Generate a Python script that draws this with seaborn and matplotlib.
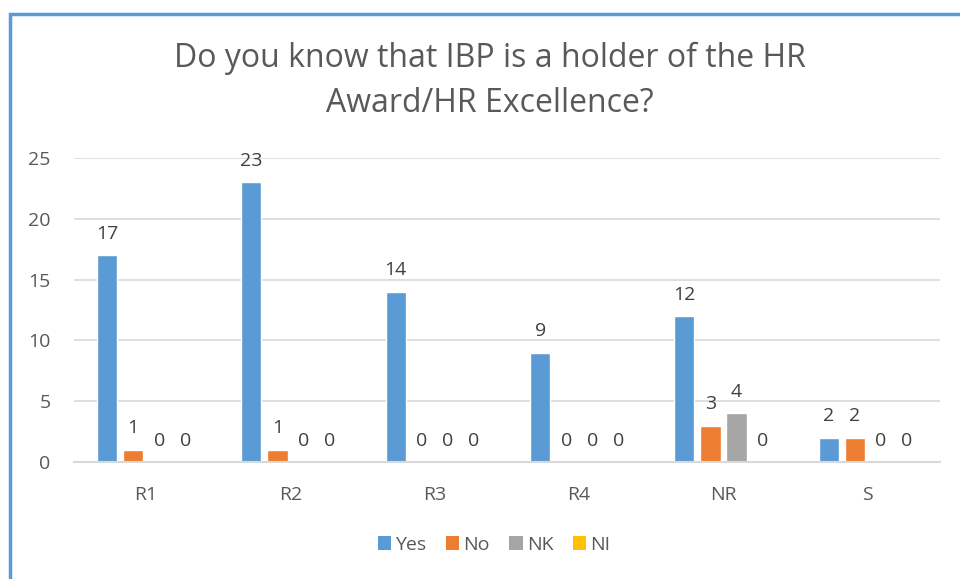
import matplotlib
matplotlib.use("Agg")
import matplotlib.pyplot as plt
import seaborn as sns
import pandas as pd
from matplotlib.patches import Rectangle, Patch

categories = ["R1", "R2", "R3", "R4", "NR", "S"]
yes = [17, 23, 14, 9, 12, 2]
no = [1, 1, 0, 0, 3, 2]
nk = [0, 0, 0, 0, 4, 0]
ni = [0, 0, 0, 0, 0, 0]
series_names = ["Yes", "No", "NK", "NI"]
colors = ["#5B9BD5", "#ED7D31", "#A5A5A5", "#FFC000"]
yticks = [0, 5, 10, 15, 20, 25]

rows = []
for name, vals in zip(series_names, [yes, no, nk, ni]):
    for c, v in zip(categories, vals):
        rows.append({"cat": c, "series": name, "value": v})
df = pd.DataFrame(rows)

sns.set_theme(style="white")
plt.rcParams["font.family"] = ["Open Sans", "DejaVu Sans"]
text_color = "#595959"

fig = plt.figure(figsize=(9.6, 5.79), dpi=100)
ax = fig.add_axes([74/960, 1-462/579, (940-74)/960, (462-158)/579])

sns.barplot(data=df, x="cat", y="value", hue="series", palette=colors,
            order=categories, hue_order=series_names, width=0.722, gap=0.23,
            ax=ax, legend=False, saturation=1, errorbar=None)

for cont in ax.containers:
    ax.bar_label(cont, fmt="%d", padding=9, fontsize=14, color="#404040")

ax.set_ylim(0, 25)
ax.set_xlim(-0.5, len(categories)-0.5)
ax.set_yticks(yticks)
ax.yaxis.grid(True, color="#D9D9D9", linewidth=1.2)
ax.set_axisbelow(True)
for s in ["top", "right", "left"]:
    ax.spines[s].set_visible(False)
ax.spines["bottom"].set_color("#D9D9D9")
ax.spines["bottom"].set_linewidth(1.5)
ax.tick_params(axis="both", length=0, labelsize=14, colors=text_color)
ax.tick_params(axis="y", pad=17)
ax.tick_params(axis="x", pad=17)
ax.set_xlabel("")
ax.set_ylabel("")

fig.text(490/960, 1-81/579, "Do you know that IBP is a holder of the HR\nAward/HR Excellence?",
         ha="center", va="center", fontsize=23, color=text_color, linespacing=1.48)

handles = [Patch(facecolor=c, edgecolor="none") for c in colors]
fig.legend(handles, series_names, loc="center", bbox_to_anchor=(494/960, 1-545/579),
           ncol=4, frameon=False, fontsize=14, labelcolor=text_color,
           handlelength=0.7, handleheight=0.7, handletextpad=0.2, columnspacing=1.0)

fig.patches.append(Rectangle((10/960, -0.1), 2, 1.1 - 14/579, transform=fig.transFigure,
                             fill=False, edgecolor="#5B9BD5", linewidth=2.5))

fig.savefig("out.png", dpi=100)
